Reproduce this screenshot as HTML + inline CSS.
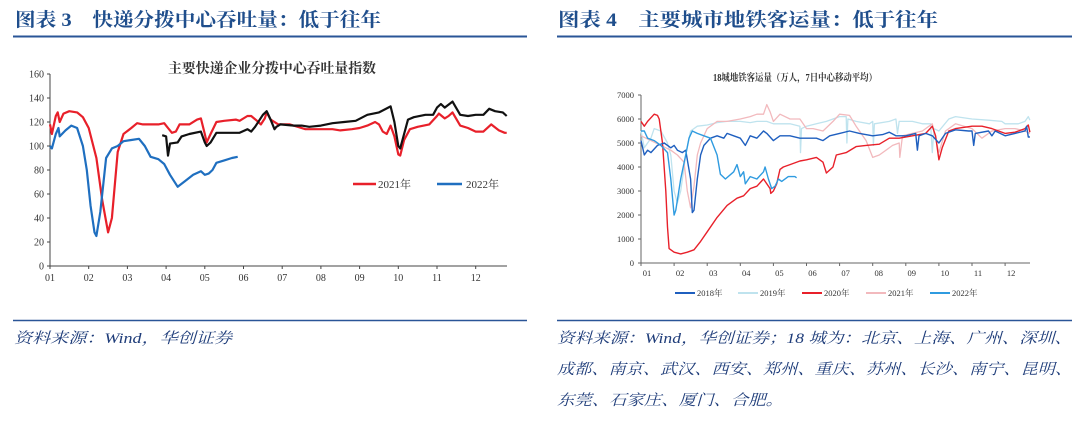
<!DOCTYPE html>
<html><head><meta charset="utf-8"><style>
html,body{margin:0;padding:0;background:#fff}
svg{display:block}
.h{font-family:"Liberation Serif","Noto Serif CJK SC",serif;font-weight:bold;fill:#1f4e8c;font-size:19px}
.src{font-family:"Liberation Serif","Noto Serif CJK SC",serif;font-style:italic;fill:#1f3d7a;font-size:15px}
.t{font-family:"Liberation Serif","Noto Serif CJK SC",serif;fill:#333}
</style></head><body>
<svg id="s" width="1080" height="427" xmlns="http://www.w3.org/2000/svg">
<text class="h" x="15" y="26" textLength="366" lengthAdjust="spacingAndGlyphs">图表 3　快递分拨中心吞吐量：低于往年</text>
<text class="h" x="558" y="26" textLength="380" lengthAdjust="spacingAndGlyphs">图表 4　主要城市地铁客运量：低于往年</text>
<line x1="13" y1="36.5" x2="527" y2="36.5" stroke="#2a5597" stroke-width="2"/>
<line x1="557" y1="36.5" x2="1072" y2="36.5" stroke="#2a5597" stroke-width="2"/>
<line x1="13" y1="320.5" x2="527" y2="320.5" stroke="#2a5597" stroke-width="1.5"/>
<line x1="557" y1="320.5" x2="1072" y2="320.5" stroke="#2a5597" stroke-width="1.5"/>
<text class="src" x="14" y="343" textLength="218" lengthAdjust="spacingAndGlyphs">资料来源：Wind，华创证券</text>
<text class="src" x="557" y="343" textLength="515" lengthAdjust="spacingAndGlyphs">资料来源：Wind，华创证券；18 城为：北京、上海、广州、深圳、</text>
<text class="src" x="557" y="374" textLength="515" lengthAdjust="spacingAndGlyphs">成都、南京、武汉、西安、郑州、重庆、苏州、长沙、南宁、昆明、</text>
<text class="src" x="557" y="405" textLength="226" lengthAdjust="spacingAndGlyphs">东莞、石家庄、厦门、合肥。</text>
<text class="t" x="168" y="73" font-size="14" font-weight="bold" fill="#222" textLength="208" lengthAdjust="spacingAndGlyphs">主要快递企业分拨中心吞吐量指数</text>
<text class="t" x="713" y="81" font-size="10" font-weight="bold" fill="#222" textLength="164" lengthAdjust="spacingAndGlyphs">18城地铁客运量（万人，7日中心移动平均）</text>
<g id="g"></g>
</svg>
<script>
var g=document.getElementById('g'),h='';
function L(x1,y1,x2,y2,c,w){h+='<line x1="'+x1+'" y1="'+y1+'" x2="'+x2+'" y2="'+y2+'" stroke="'+c+'" stroke-width="'+w+'"/>';}
function T(x,y,s,fs,a){h+='<text class="t" x="'+x+'" y="'+y+'" font-size="'+fs+'" text-anchor="'+(a||'start')+'">'+s+'</text>';}
function P(pts,fx,fy,c,w){h+='<polyline fill="none" stroke="'+c+'" stroke-width="'+w+'" stroke-linejoin="round" points="'+pts.map(function(p){return fx(p[0]).toFixed(1)+','+fy(p[1]).toFixed(1)}).join(' ')+'"/>';}
var lx=function(m){return 50+(m-1)*38.7},ly=function(v){return 266-1.2*v};
L(50,74,50,266,'#444',1);L(50,266,507,266,'#444',1);
for(var v=0;v<=160;v+=20){L(47,ly(v),50,ly(v),'#444',1);T(44,ly(v)+3.5,v,10,'end');}
for(var m=1;m<=12;m++){L(lx(m),266,lx(m),269,'#444',1);T(lx(m),281,(m<10?'0':'')+m,10,'middle');}
var red=[[1,118],[1.05,110],[1.15,125],[1.2,128],[1.25,120],[1.35,127],[1.5,129],[1.7,128],[1.85,124],[2,115],[2.2,90],[2.35,55],[2.5,28],[2.6,40],[2.75,95],[2.9,110],[3.1,115],[3.25,119],[3.4,118],[3.8,118],[3.95,119],[4.05,115],[4.15,111],[4.25,112],[4.35,118],[4.6,118],[4.8,122],[4.9,123],[5,110],[5.05,103],[5.15,110],[5.3,120],[5.5,121],[5.8,122],[5.9,121],[6.1,125],[6.2,125],[6.35,121],[6.45,118],[6.55,123],[6.6,128],[6.7,122],[6.9,118],[7.2,118],[7.6,114],[8,114],[8.3,114],[8.5,113],[8.8,114],[9,115],[9.2,117],[9.4,120],[9.5,118],[9.6,112],[9.7,110],[9.8,117],[9.9,108],[10,93],[10.05,92],[10.15,105],[10.3,114],[10.5,116],[10.8,118],[11,125],[11.05,127],[11.2,123],[11.3,125],[11.4,128],[11.6,117],[11.8,115],[12,112],[12.2,112],[12.4,118],[12.6,113],[12.75,111],[12.8,111]];
var blk=[[3.9,109],[4,108],[4.05,92],[4.1,102],[4.3,103],[4.4,108],[4.6,110],[4.9,112],[5,103],[5.05,100],[5.15,103],[5.3,111],[5.6,111],[5.9,111],[6.1,114],[6.2,112],[6.3,116],[6.5,126],[6.6,129],[6.7,122],[6.8,114],[6.85,116],[6.95,118],[7.3,117],[7.5,117],[7.7,116],[8,117],[8.3,119],[8.6,120],[8.9,121],[9.2,126],[9.5,128],[9.8,133],[9.9,120],[10,100],[10.05,98],[10.15,110],[10.25,122],[10.4,124],[10.7,126],[10.9,126],[11,132],[11.1,135],[11.2,132],[11.4,137],[11.6,126],[11.8,125],[12,126],[12.2,126],[12.35,131],[12.5,129],[12.7,128],[12.8,125]];
var blu=[[1,100],[1.05,98],[1.15,110],[1.22,115],[1.25,108],[1.4,113],[1.55,117],[1.7,115],[1.85,100],[1.95,80],[2.05,50],[2.15,28],[2.2,25],[2.3,45],[2.45,90],[2.6,98],[2.75,100],[2.9,104],[3.1,105],[3.3,106],[3.45,100],[3.6,91],[3.8,89],[3.95,85],[4.1,76],[4.3,66],[4.5,71],[4.7,76],[4.9,79],[5,76],[5.1,77],[5.2,80],[5.3,86],[5.5,88],[5.7,90],[5.85,91]];
P(red,lx,ly,'#e8202a',2.2);P(blk,lx,ly,'#111',2.2);P(blu,lx,ly,'#1f6fc0',2.2);
L(353,184,376,184,'#e8202a',2.5);T(378,188,'2021年',11);L(437,184,462,184,'#1f6fc0',2.5);T(466,188,'2022年',11);
var rx=function(m){return 641+(m-1)*33.1},ry=function(v){return 263-v*24};
L(641,95,641,263,'#666',1);L(641,263,1030,263,'#666',1);
for(var v=0;v<=7;v++){L(638,ry(v),641,ry(v),'#666',1);T(634,ry(v)+3,v*1000||0,8.5,'end');}
for(var m=1;m<=12;m++){L(rx(m),263,rx(m),266,'#666',1);T(rx(m)+6,276,(m<10?'0':'')+m,8.5,'middle');}
var s18=[[1,5.1],[1.05,4.8],[1.1,4.5],[1.2,4.7],[1.3,4.6],[1.5,4.9],[1.7,5],[1.9,4.8],[2,4.9],[2.1,4.7],[2.25,4.6],[2.35,4.7],[2.5,3.5],[2.55,2.1],[2.6,2.2],[2.7,3.5],[2.8,4.5],[2.9,4.9],[3.1,5.2],[3.3,5.3],[3.5,5.2],[3.6,5.4],[3.8,5.3],[4,5.2],[4.15,4.9],[4.3,5.3],[4.5,5.2],[4.7,5.5],[4.8,5.4],[5,5.1],[5.2,5.3],[5.5,5.3],[5.8,5.2],[6,5.2],[6.3,5.2],[6.5,5.1],[6.7,5.3],[7,5.4],[7.3,5.5],[7.6,5.4],[8,5.3],[8.3,5.35],[8.5,5.45],[8.7,5.3],[9,5.3],[9.3,5.4],[9.35,4.7],[9.4,5.3],[9.6,5.4],[9.8,5.3],[10,5],[10.2,5.4],[10.5,5.55],[10.9,5.5],[11,5.5],[11.05,4.9],[11.1,5.4],[11.5,5.5],[11.6,5.3],[11.7,5.5],[12,5.3],[12.3,5.4],[12.6,5.5],[12.65,5.7],[12.7,5.25],[12.75,5.25]];
var s19=[[1,5.5],[1.1,4.8],[1.3,5.2],[1.4,5.6],[1.6,5.5],[1.8,5],[1.9,4.5],[2,3],[2.1,2.5],[2.2,3],[2.35,4.5],[2.5,5.5],[2.7,5.7],[3,5.75],[3.3,5.85],[3.6,5.9],[4,5.9],[4.3,5.85],[4.5,5.9],[4.8,5.9],[5,5.8],[5.5,5.8],[5.8,5.7],[5.82,4.6],[5.85,5.6],[6,5.7],[6.3,5.8],[6.6,5.9],[7,6.1],[7.2,6.1],[7.22,5],[7.25,6],[7.5,5.9],[7.9,5.8],[8,5.9],[8.02,4.9],[8.05,5.8],[8.5,5.9],[8.7,6],[8.75,5.4],[8.8,5.9],[9.2,5.9],[9.5,5.8],[9.75,5.8],[9.8,4.6],[9.85,5.6],[10,5.5],[10.3,6],[10.5,6.1],[11,6],[11.5,5.95],[11.9,5.9],[12,5.8],[12.4,5.8],[12.6,5.9],[12.7,6.1],[12.75,5.95]];
var s20=[[1,5.9],[1.1,5.7],[1.2,5.9],[1.4,6.2],[1.5,6.15],[1.55,6],[1.65,5],[1.75,3],[1.8,1.5],[1.85,0.6],[2,0.45],[2.2,0.38],[2.4,0.45],[2.6,0.55],[2.8,0.9],[3,1.3],[3.3,1.9],[3.6,2.4],[3.9,2.7],[4.1,2.8],[4.3,3.1],[4.5,3.2],[4.7,3.5],[4.9,3.1],[4.92,2.9],[5,3],[5.1,3.3],[5.2,3.9],[5.3,4],[5.5,4.1],[5.8,4.25],[6,4.3],[6.3,4.4],[6.5,4.2],[6.6,3.75],[6.8,4],[6.9,4.5],[7.2,4.6],[7.5,4.85],[7.8,4.9],[8.2,4.95],[8.5,5.2],[8.8,5.2],[9.2,5.3],[9.6,5.4],[9.8,5.7],[9.9,5.3],[10,4.3],[10.1,4.8],[10.3,5.5],[10.5,5.6],[11,5.7],[11.3,5.7],[11.6,5.6],[12,5.4],[12.3,5.45],[12.6,5.6],[12.7,5.75],[12.75,5.45]];
var s21=[[1,5.3],[1.3,5.1],[1.6,4.9],[1.9,4.7],[2.1,4.5],[2.3,4.2],[2.4,3],[2.5,2.3],[2.6,3.2],[2.7,4.5],[2.8,5],[3,5.6],[3.3,5.9],[3.6,5.9],[4,6],[4.3,6.1],[4.5,6.2],[4.7,6.2],[4.8,6.6],[4.9,6.3],[5,5.9],[5.2,6.2],[5.5,6],[5.8,6],[6,5.6],[6.2,5.6],[6.5,5.5],[6.8,5.9],[7,6.2],[7.3,6.15],[7.5,5.7],[7.8,5.1],[8,4.4],[8.2,4.5],[8.6,4.9],[8.8,5],[8.82,4.4],[8.9,5.3],[9.2,5.4],[9.5,5.5],[9.8,5.8],[10,4.6],[10.2,5.5],[10.5,5.8],[11,5.6],[11.3,5.2],[11.6,5.5],[12,5.6],[12.3,5.6],[12.6,5.5],[12.75,5.4]];
var s22=[[1,5.5],[1.1,5.5],[1.2,5.2],[1.4,5.1],[1.6,4.9],[1.8,4.6],[1.9,3.5],[2,2],[2.05,2.2],[2.2,3.5],[2.35,4.5],[2.45,5.2],[2.55,5.5],[2.7,5.4],[2.9,5.3],[3.1,5.2],[3.3,4.5],[3.4,3.7],[3.55,3.5],[3.8,3.8],[3.9,4.1],[4,3.6],[4.1,3.8],[4.15,3.3],[4.3,3.6],[4.5,3.5],[4.7,3.8],[4.75,4],[4.85,3.5],[4.95,3.1],[5.05,3.2],[5.15,3.5],[5.25,3.4],[5.45,3.6],[5.65,3.6],[5.7,3.55]];
P(s19,rx,ry,'#bfe3ee',1.3);P(s21,rx,ry,'#f2b9bd',1.3);P(s20,rx,ry,'#e8202a',1.4);P(s18,rx,ry,'#1f5fbf',1.4);P(s22,rx,ry,'#2f9be0',1.4);
var lg=[['2018年','#1f5fbf',675],['2019年','#bfe3ee',738],['2020年','#e8202a',802],['2021年','#f2b9bd',866],['2022年','#2f9be0',930]];
lg.forEach(function(a){L(a[2],293,a[2]+20,293,a[1],2);T(a[2]+22,296,a[0],8.5);});
g.innerHTML=h;
</script>
</body></html>
